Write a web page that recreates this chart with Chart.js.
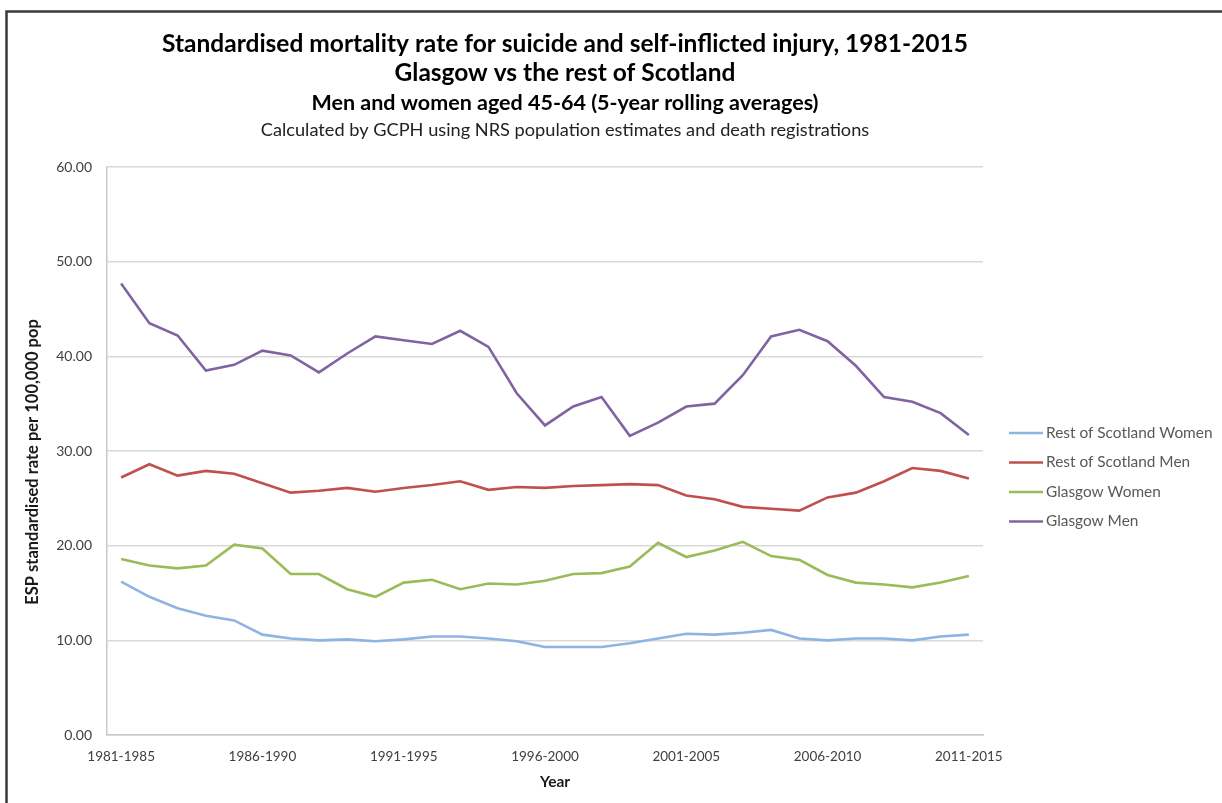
<!DOCTYPE html>
<html>
<head>
<meta charset="utf-8">
<title>Suicide mortality, Glasgow vs rest of Scotland</title>
<script src="https://cdn.jsdelivr.net/npm/chart.js@4.4.1/dist/chart.umd.min.js"></script>
<style>
  html, body { margin: 0; padding: 0; background: #ffffff; }
  #wrap { position: relative; width: 1222px; height: 803px; }
</style>
</head>
<body>
<div id="wrap"><canvas id="chart" width="1222" height="803"></canvas></div>
<script>
// 5-year rolling periods, 1981-1985 through 2011-2015
const periods = [
  '1981-1985','1982-1986','1983-1987','1984-1988','1985-1989',
  '1986-1990','1987-1991','1988-1992','1989-1993','1990-1994',
  '1991-1995','1992-1996','1993-1997','1994-1998','1995-1999',
  '1996-2000','1997-2001','1998-2002','1999-2003','2000-2004',
  '2001-2005','2002-2006','2003-2007','2004-2008','2005-2009',
  '2006-2010','2007-2011','2008-2012','2009-2013','2010-2014',
  '2011-2015'
];

// ESP standardised rate per 100,000 population
const restWomen = [
  16.2, 14.6, 13.4, 12.6, 12.1, 10.6, 10.2, 10.0, 10.1, 9.9,
  10.1, 10.4, 10.4, 10.2, 9.9, 9.3, 9.3, 9.3, 9.7, 10.2,
  10.7, 10.6, 10.8, 11.1, 10.2, 10.0, 10.2, 10.2, 10.0, 10.4,
  10.6
];
const restMen = [
  27.2, 28.6, 27.4, 27.9, 27.6, 26.6, 25.6, 25.8, 26.1, 25.7,
  26.1, 26.4, 26.8, 25.9, 26.2, 26.1, 26.3, 26.4, 26.5, 26.4,
  25.3, 24.9, 24.1, 23.9, 23.7, 25.1, 25.6, 26.8, 28.2, 27.9,
  27.1
];
const glasgowWomen = [
  18.6, 17.9, 17.6, 17.9, 20.1, 19.7, 17.0, 17.0, 15.4, 14.6,
  16.1, 16.4, 15.4, 16.0, 15.9, 16.3, 17.0, 17.1, 17.8, 20.3,
  18.8, 19.5, 20.4, 18.9, 18.5, 16.9, 16.1, 15.9, 15.6, 16.1,
  16.8
];
const glasgowMen = [
  47.7, 43.5, 42.2, 38.5, 39.1, 40.6, 40.1, 38.3, 40.3, 42.1,
  41.7, 41.3, 42.7, 41.0, 36.1, 32.7, 34.7, 35.7, 31.6, 33.0,
  34.7, 35.0, 38.0, 42.1, 42.8, 41.6, 39.0, 35.7, 35.2, 34.0,
  31.7
];

const seriesNames = ['Rest of Scotland Women', 'Rest of Scotland Men', 'Glasgow Women', 'Glasgow Men'];
const seriesColors = ['#8db4e2', '#c0504d', '#9bbb59', '#8064a2'];

const titleLines = [
  { text: 'Standardised mortality rate for suicide and self-inflicted injury, 1981-2015', font: 'bold 24.5px Lato', color: '#000000', y: 44 },
  { text: 'Glasgow vs the rest of Scotland', font: 'bold 24.5px Lato', color: '#000000', y: 73 },
  { text: 'Men and women aged 45-64 (5-year rolling averages)', font: 'bold 21.5px Lato', color: '#000000', y: 103 },
  { text: 'Calculated by GCPH using NRS population estimates and death registrations', font: '18.2px Lato', color: '#222222', y: 130 }
];
const xTitle = 'Year';
const yTitle = 'ESP standardised rate per 100,000 pop';

const textGrey = '#595959';

// Frame, headings, axis titles and the side legend are painted around the plot
const decorations = {
  id: 'decorations',
  afterDraw(chart) {
    const ctx = chart.ctx;
    ctx.save();
    // outer frame (top and left edges)
    ctx.strokeStyle = '#3a3a3a';
    ctx.lineWidth = 2.5;
    ctx.beginPath();
    ctx.moveTo(6.5, 803);
    ctx.lineTo(6.5, 11.5);
    ctx.lineTo(1222, 11.5);
    ctx.stroke();

    // headings
    ctx.textAlign = 'center';
    ctx.textBaseline = 'middle';
    titleLines.forEach(l => {
      ctx.font = l.font;
      ctx.fillStyle = l.color;
      ctx.fillText(l.text, 565, l.y);
    });

    // axis titles
    ctx.fillStyle = '#1a1a1a';
    ctx.font = 'bold 15.5px Lato';
    ctx.fillText(xTitle, 555, 782);
    ctx.save();
    ctx.translate(33, 462);
    ctx.rotate(-Math.PI / 2);
    ctx.font = 'bold 16.5px Lato';
    ctx.fillText(yTitle, 0, 0);
    ctx.restore();

    // legend
    ctx.textAlign = 'left';
    ctx.font = '15.4px Lato';
    chart.data.datasets.forEach((ds, i) => {
      const y = 433 + i * 29.5;
      ctx.strokeStyle = ds.borderColor;
      ctx.lineWidth = 2.6;
      ctx.beginPath();
      ctx.moveTo(1009, y);
      ctx.lineTo(1043, y);
      ctx.stroke();
      ctx.fillStyle = textGrey;
      ctx.fillText(ds.label, 1046, y);
    });
    ctx.restore();
  }
};

const datasets = [restWomen, restMen, glasgowWomen, glasgowMen].map((vals, i) => ({
  label: seriesNames[i],
  data: vals,
  borderColor: seriesColors[i],
  backgroundColor: seriesColors[i],
  borderWidth: 2.6,
  pointRadius: 0,
  pointHoverRadius: 0,
  tension: 0,
  fill: false
}));

new Chart(document.getElementById('chart'), {
  type: 'line',
  data: { labels: periods, datasets },
  options: {
    responsive: false,
    animation: false,
    layout: { padding: { left: 0, top: 167, right: 239, bottom: 0 } },
    plugins: {
      legend: { display: false },
      tooltip: { enabled: false }
    },
    scales: {
      x: {
        offset: true,
        grid: { display: false, drawTicks: false },
        border: { display: true, color: '#c8c8c8', width: 1.5 },
        ticks: {
          autoSkip: false,
          maxRotation: 0,
          minRotation: 0,
          padding: 14,
          color: '#404040',
          font: { family: 'Lato', size: 13.5 },
          callback: (v, i) => (i % 5 === 0 ? periods[i] : '')
        },
        afterFit(scale) { scale.height = 68; }
      },
      y: {
        min: 0,
        max: 60,
        grid: { color: '#d9d9d9', lineWidth: 1.5, drawTicks: false },
        border: { display: true, color: '#c8c8c8', width: 1.5 },
        ticks: {
          stepSize: 10,
          padding: 15,
          color: '#404040',
          font: { family: 'Lato', size: 14 },
          callback: v => Number(v).toFixed(2)
        },
        afterFit(scale) { scale.width = 107; }
      }
    }
  },
  plugins: [decorations]
});
</script>
</body>
</html>
